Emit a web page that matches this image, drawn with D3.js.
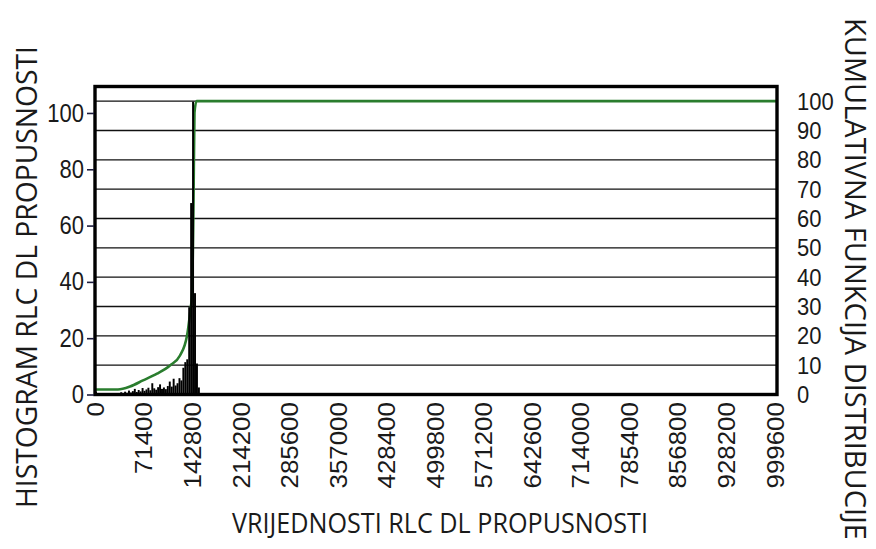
<!DOCTYPE html>
<html>
<head>
<meta charset="utf-8">
<script src="https://cdn.jsdelivr.net/npm/d3@7"></script>
<style>
  html, body { margin: 0; padding: 0; background: #fff; }
  svg { display: block; }
</style>
</head>
<body>
<svg id="chart" width="876" height="549"></svg>
<script>
// Tick values on the three axes
const xTickValues = [0, 71400, 142800, 214200, 285600, 357000, 428400, 499800,
                     571200, 642600, 714000, 785400, 856800, 928200, 999600];
const leftTickValues = [0, 20, 40, 60, 80, 100];
const rightTickValues = [0, 10, 20, 30, 40, 50, 60, 70, 80, 90, 100];

// Histogram of RLC DL throughput: bin width and bar heights (left axis)
const binWidth = 2856;
const histValues = [
  1.0, 0, 0, 0, 0, 0, 0, 0, 0, 0, 0, 0,
  0.3, 0.8, 0.4, 1.0, 0.6, 1.4, 0.7, 1.2, 2.0, 0.9,
  1.6, 1.1, 2.3, 1.3, 1.8, 2.4, 1.5, 4.0, 2.2, 1.7,
  2.6, 3.6, 2.0, 2.5, 1.9, 3.0, 4.6, 2.8, 5.6, 3.2,
  4.0, 5.8, 5.0, 9.5, 11.5, 12.5, 31, 68, 104, 36,
  11, 2.5
];

// Cumulative distribution function (right axis, percent)
const cdfX = [0, 33800, 51500, 70600, 91200, 110300, 125000, 135300,
              139700, 142700, 144900, 146300, 149300, 1003000];
const cdfY = [1.7, 1.7, 2.7, 4.8, 7.1, 9.9, 13.3, 20,
              27.6, 34.4, 66, 96, 100, 100];

const svg = d3.select("#chart");
const plot = { left: 95, right: 777, top: 86.5, bottom: 394.5 };

const x = d3.scaleLinear().domain([0, 1003000]).range([plot.left, plot.right]);
const yLeft = d3.scaleLinear().domain([0, 109.4]).range([plot.bottom, plot.top]);
const yRight = d3.scaleLinear().domain([0, 105]).range([plot.bottom, plot.top]);

svg.append("defs").append("clipPath").attr("id", "plotClip")
  .append("rect")
  .attr("x", plot.left).attr("y", plot.top)
  .attr("width", plot.right - plot.left).attr("height", plot.bottom - plot.top);

// Horizontal grid lines at the right-axis ticks
svg.append("g")
  .selectAll("line")
  .data(rightTickValues.filter(d => d > 0))
  .join("line")
  .attr("x1", plot.left).attr("x2", plot.right)
  .attr("y1", d => yRight(d)).attr("y2", d => yRight(d))
  .attr("stroke", "#111").attr("stroke-width", 1.4);

const inner = svg.append("g").attr("clip-path", "url(#plotClip)");

// Cumulative curve
inner.append("path")
  .datum(cdfX.map((v, i) => [v, cdfY[i]]))
  .attr("fill", "none")
  .attr("stroke", "#2a7d2e")
  .attr("stroke-width", 2.6)
  .attr("stroke-linejoin", "round")
  .attr("d", d3.line().curve(d3.curveMonotoneX).x(d => x(d[0])).y(d => yRight(d[1])));

// Histogram bars
inner.append("g")
  .selectAll("rect")
  .data(histValues.map((v, i) => ({ x0: i * binWidth, x1: (i + 1) * binWidth, v })))
  .join("rect")
  .attr("x", d => x(d.x0))
  .attr("width", d => x(d.x1) - x(d.x0))
  .attr("y", d => yLeft(d.v))
  .attr("height", d => yLeft(0) - yLeft(d.v))
  .attr("fill", "#000");

// Plot frame
svg.append("rect")
  .attr("x", plot.left).attr("y", plot.top)
  .attr("width", plot.right - plot.left).attr("height", plot.bottom - plot.top)
  .attr("fill", "none").attr("stroke", "#000").attr("stroke-width", 3.4);

const tickFont = "Arial, 'Liberation Sans', sans-serif";

// Left axis (histogram)
const leftAxis = svg.append("g")
  .attr("transform", `translate(${plot.left - 1},0)`)
  .call(d3.axisLeft(yLeft).tickValues(leftTickValues).tickSize(7).tickPadding(3));
leftAxis.select(".domain").remove();
leftAxis.selectAll(".tick line").attr("stroke", "#1c1c3c").attr("stroke-width", 1.6);
leftAxis.selectAll("text")
  .attr("font-family", tickFont)
  .attr("font-size", 22).attr("fill", "#1a1a1a")
  .attr("transform", "scale(1,1.14)");

// Right axis (cumulative)
const rightAxis = svg.append("g")
  .attr("transform", `translate(${plot.right},0)`)
  .call(d3.axisRight(yRight).tickValues(rightTickValues).tickSize(0).tickPadding(20));
rightAxis.select(".domain").remove();
rightAxis.selectAll("text")
  .attr("font-family", tickFont)
  .attr("font-size", 22).attr("fill", "#1a1a1a")
  .attr("transform", "scale(1,1.12)");

// Bottom axis with vertical labels
const bottomAxis = svg.append("g")
  .attr("transform", `translate(0,${plot.bottom})`)
  .call(d3.axisBottom(x).tickValues(xTickValues).tickFormat(d3.format("d")).tickSize(0));
bottomAxis.select(".domain").remove();
bottomAxis.selectAll("text")
  .attr("font-family", tickFont)
  .attr("font-size", 24).attr("fill", "#1a1a1a")
  .attr("text-anchor", "end")
  .attr("transform", "rotate(-90) scale(1.08,1)")
  .attr("x", -7).attr("y", 0).attr("dy", "0.35em");

// Axis titles
const titleFont = "'Open Sans', 'Noto Sans', sans-serif";
svg.append("text")
  .attr("transform", "translate(37,277) rotate(-90)")
  .attr("text-anchor", "middle")
  .attr("font-family", titleFont).attr("font-size", 30).attr("fill", "#1a1a1a")
  .attr("textLength", 462).attr("lengthAdjust", "spacingAndGlyphs")
  .text("HISTOGRAM RLC DL PROPUSNOSTI");

svg.append("text")
  .attr("transform", "translate(845,279) rotate(90)")
  .attr("text-anchor", "middle")
  .attr("font-family", titleFont).attr("font-size", 29).attr("fill", "#1a1a1a")
  .attr("textLength", 522).attr("lengthAdjust", "spacingAndGlyphs")
  .text("KUMULATIVNA FUNKCIJA DISTRIBUCIJE");

svg.append("text")
  .attr("x", 440).attr("y", 533)
  .attr("text-anchor", "middle")
  .attr("font-family", titleFont).attr("font-size", 28).attr("fill", "#1a1a1a")
  .attr("textLength", 416).attr("lengthAdjust", "spacingAndGlyphs")
  .text("VRIJEDNOSTI RLC DL PROPUSNOSTI");
</script>
</body>
</html>
